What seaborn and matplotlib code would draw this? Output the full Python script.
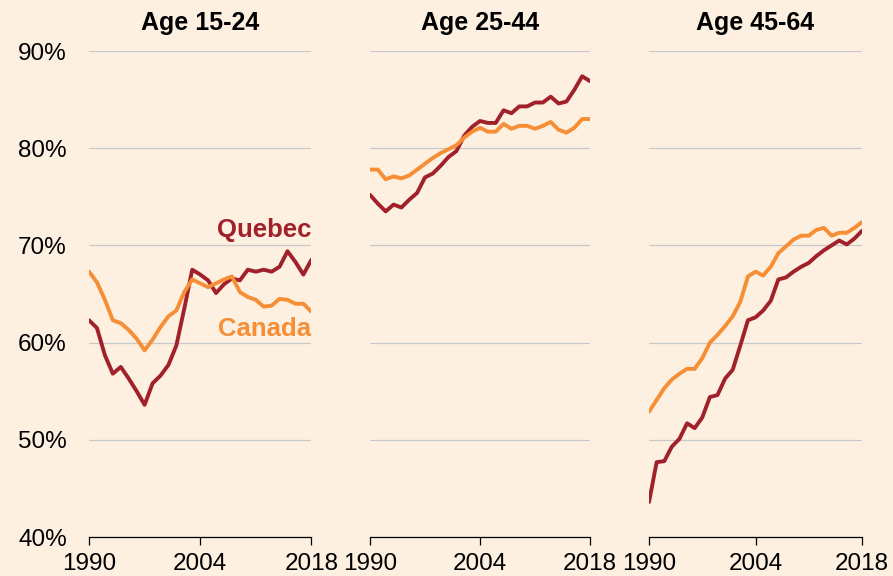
import matplotlib
matplotlib.use("Agg")
import matplotlib.pyplot as plt
import seaborn as sns
import pandas as pd

years = list(range(1990, 2019))

quebec_15_24 = [62.3, 61.5, 58.7, 56.8, 57.5, 56.3, 55.0, 53.6, 55.8, 56.6, 57.7, 59.7, 63.5, 67.5, 67.0,
                66.4, 65.1, 66.0, 66.6, 66.4, 67.5, 67.3, 67.5, 67.3, 67.8, 69.4, 68.3, 67.0, 68.5]
canada_15_24 = [67.3, 66.2, 64.4, 62.3, 62.0, 61.3, 60.4, 59.2, 60.3, 61.6, 62.7, 63.3, 65.2, 66.5, 66.1,
                65.7, 66.1, 66.5, 66.8, 65.2, 64.7, 64.4, 63.7, 63.8, 64.5, 64.4, 64.0, 64.0, 63.2]

quebec_25_44 = [75.2, 74.3, 73.5, 74.2, 73.9, 74.7, 75.4, 77.0, 77.4, 78.2, 79.1, 79.7, 81.3, 82.2, 82.8,
                82.6, 82.6, 83.9, 83.6, 84.3, 84.3, 84.7, 84.7, 85.3, 84.6, 84.8, 86.0, 87.4, 86.9]
canada_25_44 = [77.8, 77.8, 76.8, 77.1, 76.9, 77.2, 77.8, 78.4, 79.0, 79.5, 79.9, 80.3, 81.1, 81.7, 82.1,
                81.7, 81.7, 82.5, 82.0, 82.3, 82.3, 82.0, 82.3, 82.7, 81.9, 81.6, 82.1, 83.0, 83.0]

quebec_45_64 = [43.6, 47.7, 47.8, 49.3, 50.1, 51.7, 51.2, 52.3, 54.4, 54.6, 56.3, 57.2, 59.7, 62.3, 62.6,
                63.3, 64.3, 66.5, 66.7, 67.3, 67.8, 68.2, 68.9, 69.5, 70.0, 70.5, 70.1, 70.7, 71.5]
canada_45_64 = [52.9, 54.1, 55.3, 56.2, 56.8, 57.3, 57.3, 58.4, 60.0, 60.8, 61.7, 62.7, 64.2, 66.8, 67.3,
                66.9, 67.8, 69.2, 69.9, 70.6, 71.0, 71.0, 71.6, 71.8, 71.0, 71.3, 71.3, 71.8, 72.4]

panel_titles = ["Age 15-24", "Age 25-44", "Age 45-64"]
x_ticks = [1990, 2004, 2018]
y_ticks = [40, 50, 60, 70, 80, 90]

bg = "#FDF0E1"
colores = {"Quebec": "#A0212A", "Canada": "#F68E35"}

sns.set_style("white")
plt.rcParams["font.family"] = ["Liberation Sans", "DejaVu Sans"]
plt.rcParams["text.color"] = "black"
plt.rcParams["xtick.color"] = "black"
plt.rcParams["ytick.color"] = "black"

fig = plt.figure(figsize=(8.93, 5.76), dpi=100)
fig.patch.set_facecolor(bg)

posiciones = [(0.0997, 0.3486), (0.4143, 0.6607), (0.7268, 0.9653)]
series = [(quebec_15_24, canada_15_24), (quebec_25_44, canada_25_44), (quebec_45_64, canada_45_64)]

for i, ((x0, x1), (qc, ca), titulo) in enumerate(zip(posiciones, series, panel_titles)):
    ax = fig.add_axes([x0, 0.0677, x1 - x0, 0.84375])
    ax.set_facecolor(bg)

    df = pd.DataFrame({
        "year": years * 2,
        "rate": qc + ca,
        "region": ["Quebec"] * len(years) + ["Canada"] * len(years),
    })
    sns.lineplot(data=df, x="year", y="rate", hue="region", palette=colores,
                 linewidth=2.8, legend=False, ax=ax)

    ax.set_xlim(1990, 2018)
    ax.set_ylim(40, 90)
    ax.set_xticks(x_ticks)
    ax.set_yticks(y_ticks)
    ax.grid(axis="y", color="#C9C9C9", linewidth=0.9)
    ax.set_axisbelow(True)
    for lado in ["top", "right", "left"]:
        ax.spines[lado].set_visible(False)
    ax.spines["bottom"].set_color("black")
    ax.spines["bottom"].set_linewidth(0.9)
    ax.spines["bottom"].set_zorder(3)
    ax.tick_params(axis="x", direction="out", length=5.5, width=0.9, color="black",
                   labelsize=17.5, pad=6, bottom=True)
    if i == 0:
        ax.set_yticklabels([f"{v}%" for v in y_ticks])
        ax.tick_params(axis="y", length=0, labelsize=17.5, pad=16)
    else:
        ax.tick_params(axis="y", length=0, labelleft=False)
    ax.set_xlabel("")
    ax.set_ylabel("")
    ax.set_title(titulo, fontsize=18, fontweight="bold", pad=15)

    if i == 0:
        ax.text(2018, 71.6, "Quebec", color=colores["Quebec"], fontsize=18.5,
                fontweight="bold", ha="right", va="center")
        ax.text(2018, 61.4, "Canada", color=colores["Canada"], fontsize=18.5,
                fontweight="bold", ha="right", va="center")

fig.savefig("out.png", dpi=100, facecolor=bg)
